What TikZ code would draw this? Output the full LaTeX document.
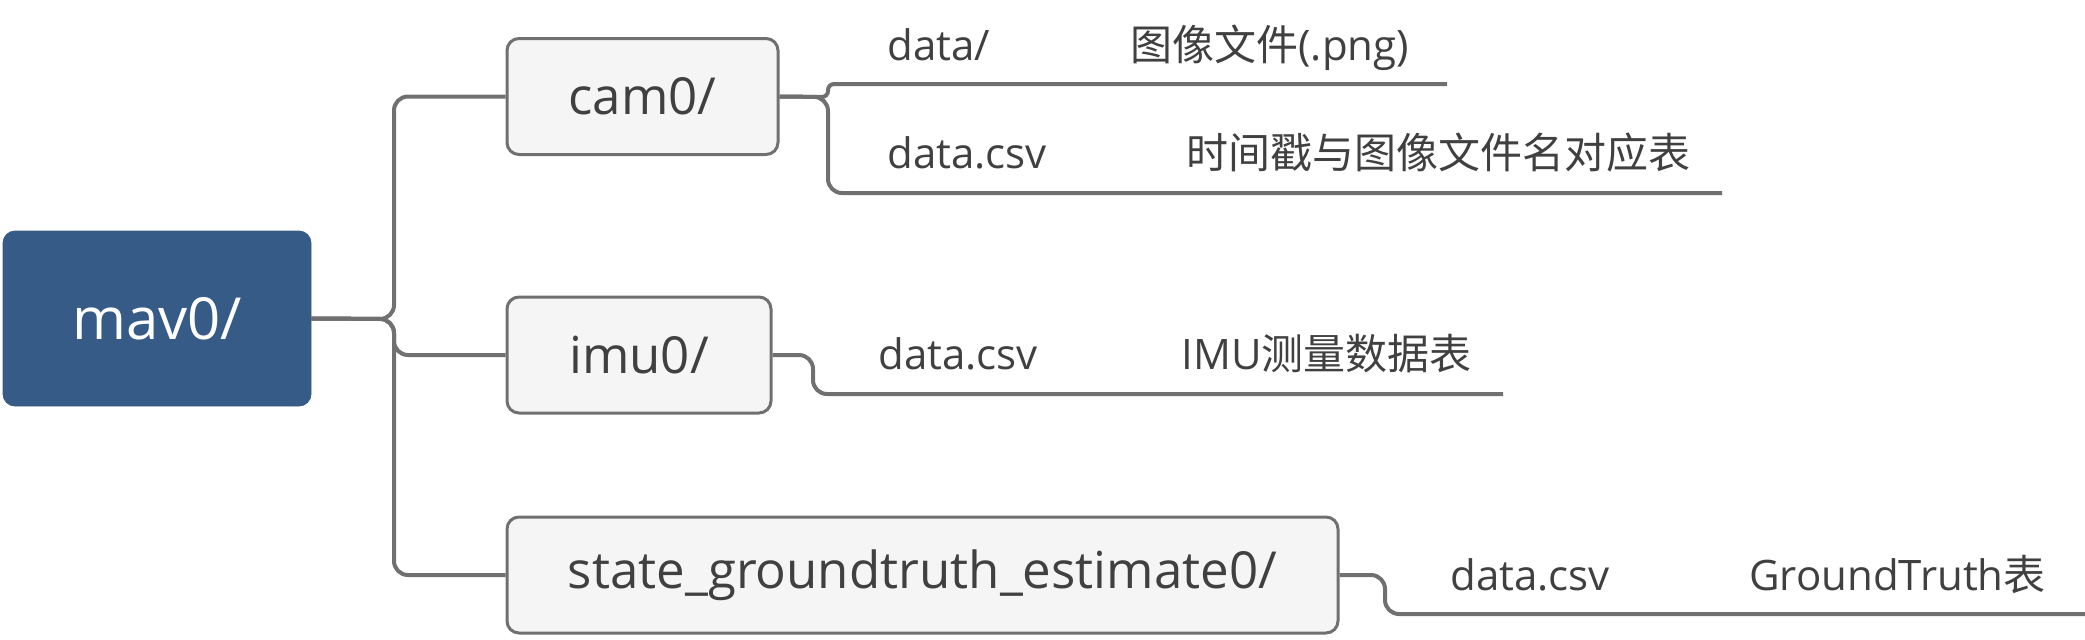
\documentclass[tikz,border=0pt]{standalone}
\usepackage{fontspec}
\setmainfont{Open Sans}
\newfontfamily\cjk{Noto Sans CJK SC}
\definecolor{linegray}{RGB}{112,112,112}
\definecolor{txtgray}{RGB}{64,64,64}
\definecolor{boxfill}{RGB}{245,245,245}
\definecolor{rootblue}{RGB}{54,91,135}
\begin{document}
\begin{tikzpicture}[x=0.5pt,y=-0.5pt,
  conn/.style={draw=linegray, line width=2pt, rounded corners=7pt},
  rootbox/.style={fill=rootblue, draw=rootblue, rounded corners=6pt, text=white,
    font=\fontsize{29}{34}\selectfont, minimum width=154pt, minimum height=87.5pt, inner sep=0pt},
  dirbox/.style={fill=boxfill, draw=linegray, line width=1.5pt, rounded corners=6pt, text=txtgray,
    font=\fontsize{25.5}{30}\selectfont, minimum height=58pt, inner sep=0pt},
  leaf/.style={anchor=base west, text=txtgray, font=\fontsize{21}{25}\selectfont, inner sep=0pt}
]
\useasboundingbox (0,0) rectangle (2085,639);
% nodes
\node[rootbox] (mav) at (157,318.5) {mav0/};
\node[dirbox, minimum width=135.5pt] (cam) at (642.5,96.5) {cam0/};
\node[dirbox, minimum width=132pt] (imu) at (639,355) {imu0/};
\node[dirbox, minimum width=415.5pt] (gt) at (922.5,575) {state\_groundtruth\_estimate0/};
% trunk
\coordinate (tk) at (394,319);
\draw[conn] (mav.east) -- (tk) |- (cam.west);
\draw[conn] (mav.east) -- (tk) |- (imu.west);
\draw[conn] (mav.east) -- (tk) |- (gt.west);
% cam0 leaves
\coordinate (cj) at (828,97);
\coordinate (e1) at (1447,84);
\coordinate (e2) at (1722,193);
\draw[conn, rounded corners=3pt] (cam.east) -- (cj) |- (e1);
\draw[conn] (cam.east) -- (cj) |- (e2);
\node[leaf] (l1a) at (887,60) {data/};
\node[leaf] (l1b) at (1130,60) {{\cjk 图像文件}(.png)};
\node[leaf] (l2a) at (887,168) {data.csv};
\node[leaf] (l2b) at (1186,168) {\cjk 时间戳与图像文件名对应表};
% imu0 leaf
\coordinate (ij) at (813,355);
\coordinate (e3) at (1503,394);
\draw[conn] (imu.east) -- (ij) |- (e3);
\node[leaf] (l3a) at (878,369) {data.csv};
\node[leaf] (l3b) at (1181,369) {IMU{\cjk 测量数据表}};
% state leaf
\coordinate (gj) at (1385,575);
\coordinate (e4) at (2085,614);
\draw[conn] (gt.east) -- (gj) |- (e4);
\node[leaf] (l4a) at (1450,590) {data.csv};
\node[leaf] (l4b) at (1749,590) {GroundTruth{\cjk 表}};
\end{tikzpicture}
\end{document}
